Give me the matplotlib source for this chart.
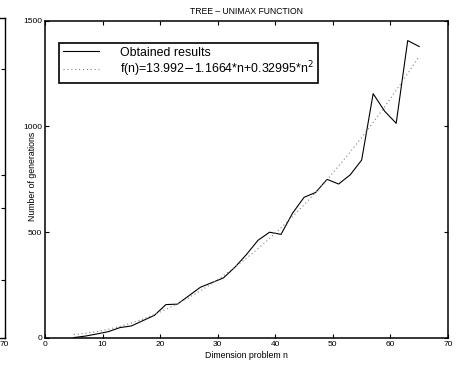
import numpy as np
import matplotlib
matplotlib.use("Agg")
import matplotlib.pyplot as plt

plt.rcParams["font.family"] = ["Liberation Sans", "DejaVu Sans"]

# problem dimension n and observed generations
dims = [5, 7, 9, 11, 13, 15, 17, 19, 21, 23, 25, 27, 29, 31, 33, 35,
        37, 39, 41, 43, 45, 47, 49, 51, 53, 55, 57, 59, 61, 63, 65]
generations = [2, 9, 19, 30, 49, 57, 82, 107, 158, 160, 200, 240, 262, 284, 335, 395,
               462, 500, 490, 590, 665, 688, 750, 728, 771, 841, 1155, 1072, 1015, 1406, 1378]

# fitted quadratic from the legend
fit_coef = [13.992, -1.1664, 0.32995]
fit_label = r"f(n)=13.992$-$1.1664*n+0.32995*n$^2$"

fig = plt.figure(figsize=(4.57, 3.65), dpi=100)

# neighbouring subplot, cut off at the left edge
ax0 = fig.add_axes([-0.9, 0.074, 0.9 + 4.5 / 457, 0.878])
ax0.set_xlim(0, 70)
ax0.set_ylim(0, 1)
ax0.set_xticks([70])
ax0.set_xticklabels(["70"], fontsize=6)
ax0.set_yticks([0.18, 0.405, 0.51, 0.84])
ax0.set_yticklabels([])
ax0.tick_params(direction="in", right=True, left=False, length=3, pad=2)
for s in ax0.spines.values():
    s.set_linewidth(1.0)

ax = fig.add_axes([45 / 457, 27 / 365, 403 / 457, 317.3 / 365])

x = np.array(dims)
ax.plot(x, generations, color="black", lw=0.8, label="Obtained results")
fit = fit_coef[0] + fit_coef[1] * x + fit_coef[2] * x ** 2
ax.plot(x, fit, color="0.5", lw=0.8, ls=(0, (1, 2.5)), label=fit_label)

ax.set_xlim(0, 70)
ax.set_ylim(0, 1500)
ax.set_xticks(range(0, 71, 10))
ax.set_yticks([0, 500, 1000, 1500])
ax.tick_params(direction="in", top=True, right=True, length=3, labelsize=6, pad=2)
for s in ax.spines.values():
    s.set_linewidth(1.1)

ax.set_title("TREE \u2013 UNIMAX FUNCTION", fontsize=6.2, pad=5)
ax.set_xlabel("Dimension problem n", fontsize=6.3, labelpad=2)
ax.set_ylabel("Number of generations", fontsize=6.3)
ax.yaxis.set_label_coords(-0.021, 0.51)

leg = ax.legend(loc="upper left", bbox_to_anchor=(0.035, 0.93), borderaxespad=0,
                fontsize=8.9, fancybox=False, framealpha=1, edgecolor="black",
                handlelength=2.9, handletextpad=1.75, borderpad=0.3, labelspacing=0.05)
leg.get_frame().set_linewidth(1.2)

fig.savefig("out.png", dpi=100)
